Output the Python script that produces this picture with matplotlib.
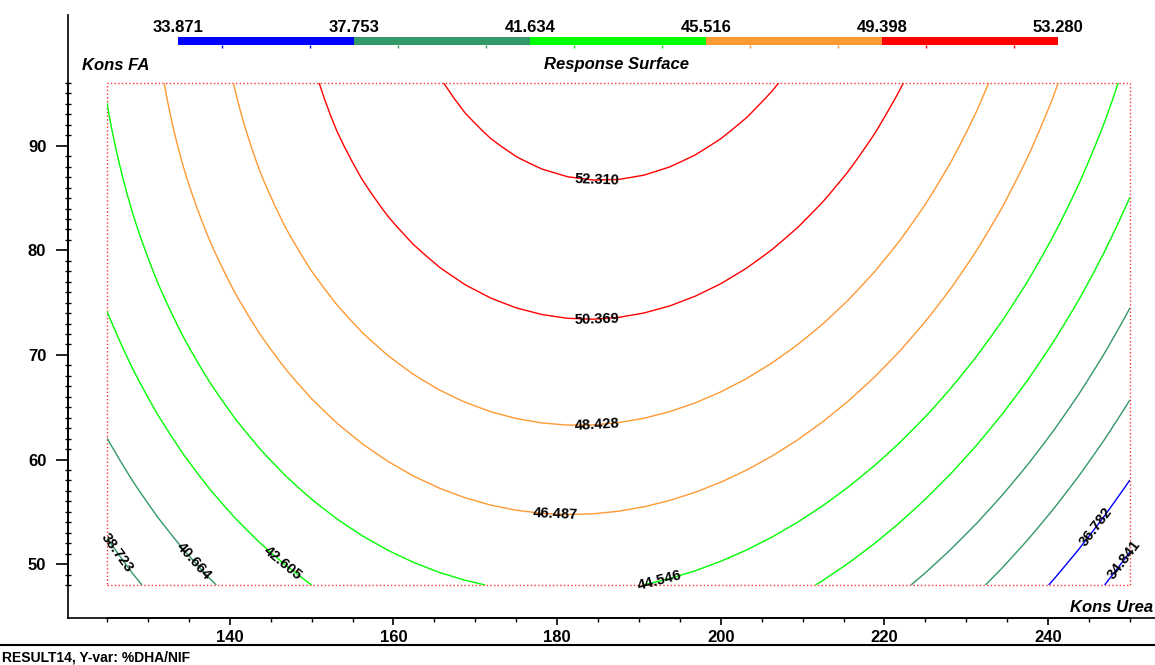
import numpy as np
import matplotlib
matplotlib.use('Agg')
import matplotlib.pyplot as plt
from matplotlib.lines import Line2D
from matplotlib.patches import Rectangle

plt.rcParams['font.family'] = ['Liberation Sans Narrow', 'Liberation Sans', 'DejaVu Sans']
plt.rcParams['font.weight'] = 'bold'

# factor ranges
urea_range = [125, 250]
fa_range = [48, 96]

# quadratic response-surface model in coded units
terms = ['const', 'Urea', 'FA', 'Urea*Urea', 'FA*FA', 'Urea*FA']
coefs = [50.090, -1.078, 4.303, -8.867, -1.131, 0.823]

band_edges = [33.871, 37.753, 41.634, 45.516, 49.398, 53.280]
band_colors = ['#0000ff', '#339966', '#00ff00', '#ff9933', '#ff0000']
levels = [34.841, 36.782, 38.723, 40.664, 42.605, 44.546, 46.487, 48.428, 50.369, 52.310]

x_ticks = [140, 160, 180, 200, 220, 240]
y_ticks = [50, 60, 70, 80, 90]

W, H = 1155, 665

# surface
xs = np.linspace(urea_range[0], urea_range[1], 41)
ys = np.linspace(fa_range[0], fa_range[1], 33)
X, Y = np.meshgrid(xs, ys)
xu = (X - np.mean(urea_range)) / ((urea_range[1] - urea_range[0]) / 2)
xf = (Y - np.mean(fa_range)) / ((fa_range[1] - fa_range[0]) / 2)
Z = (coefs[0] + coefs[1] * xu + coefs[2] * xf + coefs[3] * xu ** 2
     + coefs[4] * xf ** 2 + coefs[5] * xu * xf)

level_colors = [band_colors[min(np.searchsorted(band_edges, lv) - 1, 4)] for lv in levels]

fig = plt.figure(figsize=(W / 100, H / 100), dpi=100)
ax = fig.add_axes([107 / W, 1 - 585 / H, (1130 - 107) / W, (585 - 83) / H])

cs = ax.contour(X, Y, Z, levels=levels, colors=level_colors, linewidths=1.0)
label_pos = [(249.8, 50.1), (244.6, 54.3), (125.7, 50.8), (135.6, 50.2), (146.4, 50.0),
             (192.6, 48.2), (179.8, 54.6), (184.9, 63.3), (184.9, 73.4), (184.9, 86.5)]
texts = ax.clabel(cs, inline=False, fmt='%.3f', fontsize=10.5, colors='k', manual=label_pos)
for t in texts:
    t.set_clip_on(False)

ax.set_xlim(urea_range)
ax.set_ylim(fa_range)

# red dotted frame of the design region
ax.add_patch(Rectangle((0, 0), 1, 1, transform=ax.transAxes, fill=False,
                       edgecolor='#ff3333', linestyle=':', linewidth=1.0, clip_on=False))

for side in ['top', 'right']:
    ax.spines[side].set_visible(False)
ax.spines['left'].set_position(('outward', 39 * 0.72))
ax.spines['bottom'].set_position(('outward', 33 * 0.72))
ax.spines['left'].set_linewidth(1.2)
ax.spines['bottom'].set_linewidth(1.2)

ax.set_xticks(x_ticks)
ax.set_yticks(y_ticks)
ax.set_xticks(np.arange(125, 251, 5), minor=True)
ax.set_yticks(np.arange(48, 97, 1), minor=True)
ax.tick_params(axis='y', which='major', direction='out', length=8.6, width=1.2,
               pad=7, labelsize=12)
ax.tick_params(axis='y', which='minor', direction='inout', length=5, width=1.0)
ax.tick_params(axis='x', which='major', direction='out', length=5, width=1.2,
               pad=4, labelsize=12)
ax.tick_params(axis='x', which='minor', direction='out', length=3, width=1.0)

# long axis lines
fig.add_artist(Line2D([68 / W, 68 / W], [1 - 15 / H, 1 - 618 / H], color='k', lw=1.2))
fig.add_artist(Line2D([68 / W, 1], [1 - 618 / H, 1 - 618 / H], color='k', lw=1.2))
fig.add_artist(Line2D([0, 1], [1 - 645 / H, 1 - 645 / H], color='k', lw=1.5))

# colour scale
cax = fig.add_axes([178 / W, 1 - 45 / H, 880 / W, 8 / H])
cax.barh(0.5, np.diff(band_edges), left=band_edges[:-1], height=1.0, color=band_colors)
cax.set_xlim(band_edges[0], band_edges[-1])
cax.set_ylim(0, 1)
cax.axis('off')
cax.vlines(levels, -0.4, 0, colors=level_colors, lw=1, clip_on=False)
for e in band_edges:
    cax.text(e, 1.25, f'{e:.3f}', ha='center', va='bottom', fontsize=12, fontweight='bold')

fig.text(82 / W, 1 - 65 / H, 'Kons FA', fontsize=12, fontweight='bold', style='italic',
         ha='left', va='center')
fig.text(617 / W, 1 - 65 / H, 'Response Surface', fontsize=12, fontweight='bold',
         style='italic', ha='center', va='center')
fig.text(1153 / W, 1 - 607 / H, 'Kons Urea', fontsize=12, fontweight='bold',
         style='italic', ha='right', va='center')
fig.text(2 / W, 1 - 657 / H, 'RESULT14, Y-var: %DHA/NIF', fontsize=10, fontweight='bold',
         ha='left', va='center')

fig.savefig('out.png', dpi=100)
